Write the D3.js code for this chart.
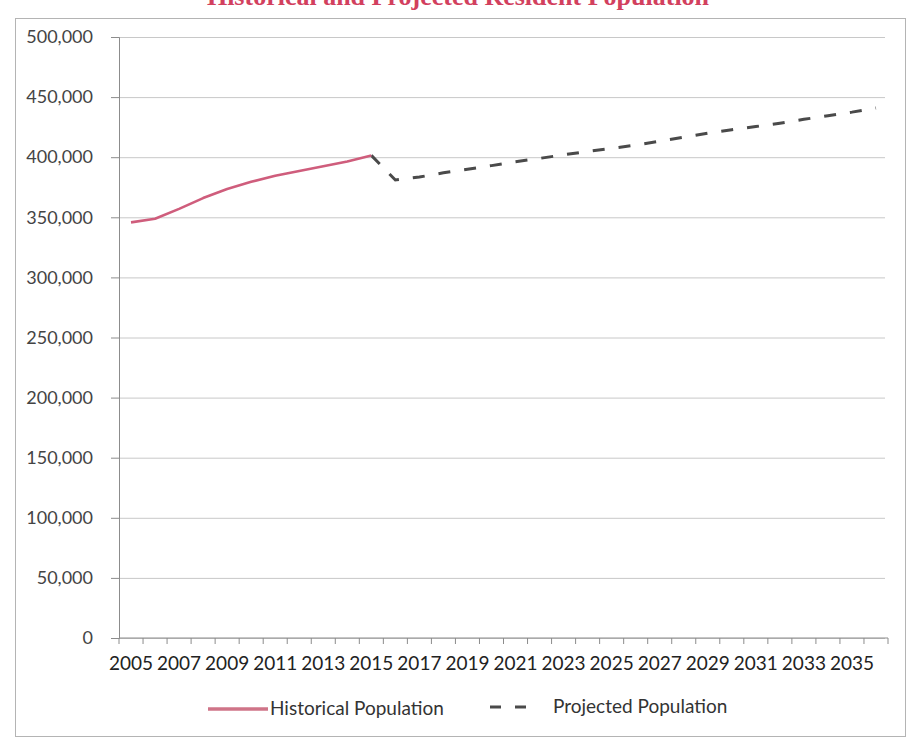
<!DOCTYPE html>
<html>
<head>
<meta charset="utf-8">
<script src="https://cdn.jsdelivr.net/npm/d3@7"></script>
<style>
    body { margin: 0; background: #fff; }
    svg text { font-family: Lato, "Open Sans", sans-serif; }
    .grid line { stroke: #c8c8c8; }
    .axis path, .axis line { stroke: #8c8c8c; }
    .y-axis text { fill: #444; font-size: 18px; }
    .x-axis text { fill: #222; font-size: 19px; }
    .legend text { fill: #333; font-size: 19px; }
    svg text.title { font-family: "Liberation Serif", serif; }
</style>
</head>
<body>
<svg id="chart"></svg>
<script>
const years = [2005, 2006, 2007, 2008, 2009, 2010, 2011, 2012, 2013, 2014, 2015,
    2016, 2017, 2018, 2019, 2020, 2021, 2022, 2023, 2024, 2025, 2026,
    2027, 2028, 2029, 2030, 2031, 2032, 2033, 2034, 2035, 2036];
const xTickLabels = [2005, 2007, 2009, 2011, 2013, 2015, 2017, 2019, 2021,
    2023, 2025, 2027, 2029, 2031, 2033, 2035];
const yTicks = [0, 50000, 100000, 150000, 200000, 250000, 300000, 350000, 400000, 450000, 500000];

const historicalYears = [2005, 2006, 2007, 2008, 2009, 2010, 2011, 2012, 2013, 2014, 2015];
const historicalValues = [345800, 348800, 357000, 366000, 373500, 379500, 384500, 388500, 392500, 396500, 401500];

const projectedYears = [2015, 2016, 2017, 2018, 2019, 2020, 2021, 2022, 2023, 2024, 2025,
    2026, 2027, 2028, 2029, 2030, 2031, 2032, 2033, 2034, 2035, 2036];
const projectedValues = [401500, 381000, 383500, 387000, 390000, 393000, 396300, 399000, 402000, 404800, 407400,
    410000, 413300, 416600, 420000, 422800, 425500, 428300, 431500, 434500, 437500, 441000];

const seriesNames = ["Historical Population", "Projected Population"];
const title = "Historical and Projected Resident Population";

const width = 907, height = 740;
const plot = { left: 119, right: 888, top: 37, bottom: 638, gridEnd: 885 };

const svg = d3.select("#chart")
    .attr("width", width)
    .attr("height", height);

// frame around the chart, as on the printed page
svg.append("rect")
    .attr("x", 15.5).attr("y", 18.5)
    .attr("width", 890).attr("height", 718)
    .attr("fill", "none")
    .attr("stroke", "#b4b4b4");

// the title sits right at the top edge of the scan (only its lower half shows)
svg.append("text")
    .attr("class", "title")
    .attr("x", 458).attr("y", 5)
    .attr("text-anchor", "middle")
    .attr("font-weight", "bold")
    .attr("font-size", 26)
    .attr("fill", "#d2405e")
    .text(title);

const xScale = d3.scaleBand()
    .domain(years)
    .range([plot.left, plot.right]);

const yScale = d3.scaleLinear()
    .domain([0, 500000])
    .range([plot.bottom, plot.top]);

// gridlines
svg.append("g")
    .attr("class", "grid")
    .attr("transform", `translate(${plot.left}, 0)`)
    .call(d3.axisLeft(yScale).tickValues(yTicks).tickSize(-(plot.gridEnd - plot.left)).tickFormat(""))
    .call(g => g.select(".domain").remove());

const yAxisGroup = svg.append("g")
    .attr("class", "axis y-axis")
    .attr("transform", `translate(${plot.left}, 0)`)
    .call(d3.axisLeft(yScale)
        .tickValues(yTicks)
        .tickSize(8)
        .tickPadding(18)
        .tickFormat(d3.format(",")));

// x axis: line + ticks between categories, labels on every other year
const xAxisGroup = svg.append("g")
    .attr("class", "axis x-axis")
    .attr("transform", `translate(0, ${plot.bottom})`);

xAxisGroup.append("line")
    .attr("x1", plot.left).attr("x2", plot.right)
    .attr("stroke", "#8c8c8c");

xAxisGroup.selectAll(".cat-tick")
    .data(years.concat([null]))
    .join("line")
    .attr("class", "cat-tick")
    .attr("x1", (d) => d === null ? plot.right : xScale(d))
    .attr("x2", (d) => d === null ? plot.right : xScale(d))
    .attr("y1", 0).attr("y2", 6)
    .attr("stroke", "#8c8c8c");

xAxisGroup.call(d3.axisBottom(xScale)
        .tickValues(xTickLabels)
        .tickSize(0)
        .tickPadding(19))
    .call(g => g.select(".domain").remove());

const cx = (d) => xScale(d) + xScale.bandwidth() / 2;

const line = d3.line()
    .x((d) => cx(d[0]))
    .y((d) => yScale(d[1]));

svg.append("path")
    .datum(projectedYears.map((yr, i) => [yr, projectedValues[i]]))
    .attr("d", line)
    .attr("fill", "none")
    .attr("stroke", "#4a4a4a")
    .attr("stroke-width", 3)
    .attr("stroke-dasharray", "12,14");

svg.append("path")
    .datum(historicalYears.map((yr, i) => [yr, historicalValues[i]]))
    .attr("d", line)
    .attr("fill", "none")
    .attr("stroke", "#cf5d7c")
    .attr("stroke-width", 2.6)
    .attr("stroke-linejoin", "round");

// legend
const legend = svg.append("g").attr("class", "legend");

legend.append("line")
    .attr("x1", 208).attr("x2", 268)
    .attr("y1", 709).attr("y2", 709)
    .attr("stroke", "#cf7488")
    .attr("stroke-width", 3.5);

legend.append("text")
    .attr("x", 270).attr("y", 715)
    .text(seriesNames[0]);

legend.append("line")
    .attr("x1", 490).attr("x2", 526)
    .attr("y1", 707).attr("y2", 707)
    .attr("stroke", "#4a4a4a")
    .attr("stroke-width", 3)
    .attr("stroke-dasharray", "11,14");

legend.append("text")
    .attr("x", 553).attr("y", 713)
    .text(seriesNames[1]);
</script>
</body>
</html>
